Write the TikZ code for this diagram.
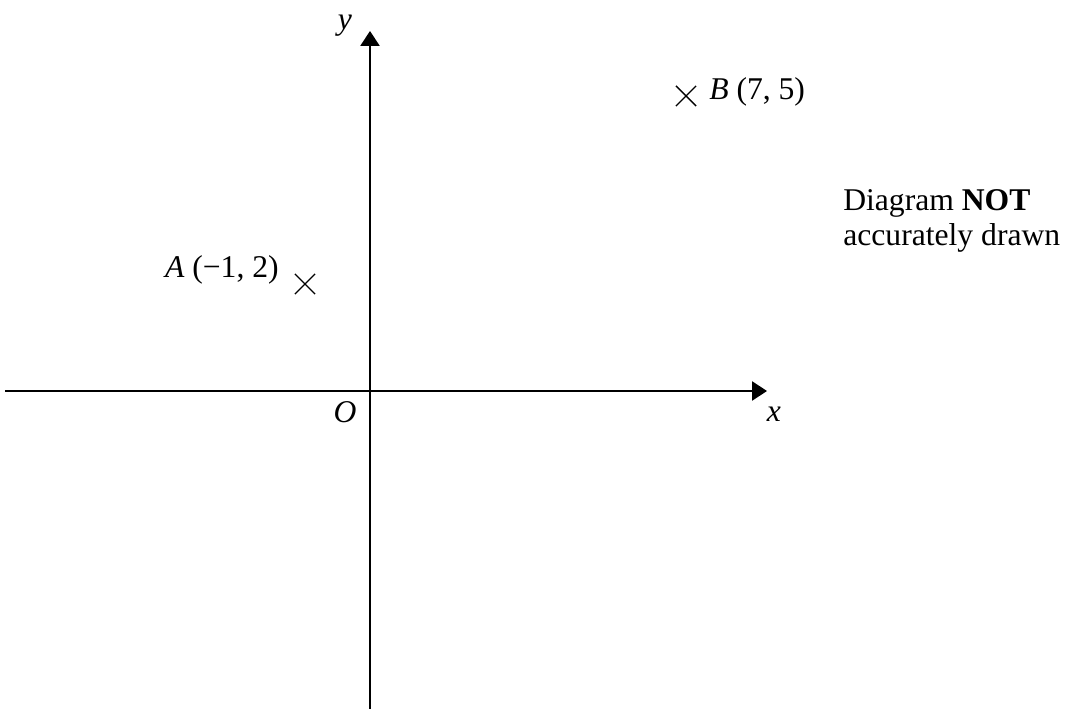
\documentclass[tikz,border=0pt]{standalone}
\usepackage{fontspec}
\setmainfont{Liberation Serif}
\usetikzlibrary{positioning, arrows.meta, shapes.misc}

\begin{document}
\begin{tikzpicture}[
    x=0.025cm, y=-0.025cm,
    font=\fontsize{22.5}{25}\selectfont,
    axis/.style={line width=1.1pt, -{Triangle[length=10.5pt, width=13.5pt]}},
    ptmark/.style={draw, cross out, line width=1pt, inner sep=0pt, minimum size=0.47cm},
    lbl/.style={inner sep=0pt}
]
    \useasboundingbox (0,0) rectangle (1068,709);

    % axes
    \coordinate (xl) at (5,391);
    \coordinate (xr) at (767,391);
    \coordinate (yb) at (370,712);
    \coordinate (yt) at (370,31);
    \draw[axis] (xl) -- (xr);
    \draw[axis] (yb) -- (yt);

    \node[lbl] (ylab) at (345,26) {\textit{y}};
    \node[lbl] (xlab) at (774,414) {\textit{x}};
    \node[lbl] (olab) at (345,412) {\textit{O}};

    % plotted points
    \node[ptmark] (a) at (305,284) {};
    \node[ptmark] (b) at (686,96) {};
    \node[lbl, anchor=base east] (alab) at (279,278) {\textit{A} (−1, 2)};
    \node[lbl, anchor=base west] (blab) at (709,100) {\textit{B} (7, 5)};

    \node[lbl, anchor=north west, align=left] (note) at (843,189) {Diagram \textbf{NOT}\\accurately drawn};
\end{tikzpicture}
\end{document}
